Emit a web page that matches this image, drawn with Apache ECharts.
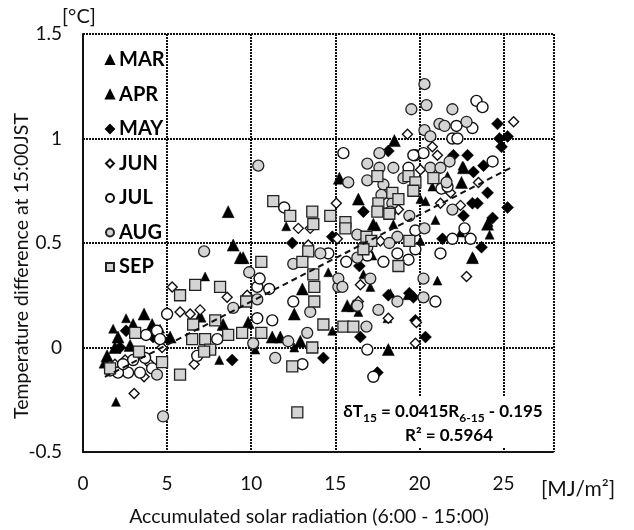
<!DOCTYPE html>
<html><head><meta charset="utf-8">
<script src="https://cdn.jsdelivr.net/npm/echarts@6/dist/echarts.min.js"></script>
<style>html,body{margin:0;padding:0;background:#fff}#c{width:634px;height:530px}</style>
</head><body><div id="c"></div>
<script>
const monthNames = ['MAR','APR','MAY','JUN','JUL','AUG','SEP'];
const xTicks = [0,5,10,15,20,25];
const yTicks = [-0.5,0,0.5,1,1.5];

const mar = [[2.08,0.05],[1.43,-0.04],[1.90,0.00],[1.31,-0.07],[2.98,0.11],[3.63,0.16],[2.80,0.01],[4.11,0.11],[5.18,0.05],[6.96,0.15],[8.63,0.65],[8.93,0.49],[9.35,0.43],[9.52,0.43],[8.33,0.11],[9.82,0.12],[11.25,0.05],[11.73,0.05],[12.56,0.16],[12.92,0.03],[13.04,0.28],[16.37,0.71],[15.24,0.81],[18.51,0.99],[17.26,0.59],[22.62,0.86],[22.50,0.79],[15.71,0.20],[16.07,0.20],[18.15,-0.01],[23.15,0.43],[24.05,0.59]];
const apr = [[1.96,-0.26],[7.26,0.34],[8.10,-0.06],[1.79,0.09],[4.58,0.09],[2.56,0.14],[12.08,0.58],[10.24,-0.01],[12.56,0.00],[14.58,0.36],[17.20,0.44],[16.67,0.35],[17.08,0.29],[18.27,0.26],[14.82,0.08],[16.37,0.17],[18.10,0.14],[19.29,0.25],[17.44,0.58],[18.45,0.59],[20.06,0.71],[20.36,0.70],[24.11,0.60],[24.17,0.54],[20.95,0.61],[21.67,0.82],[20.77,0.77],[22.44,0.55],[21.07,0.32],[23.21,0.43],[22.56,0.87],[20.06,0.51]];
const may = [[2.56,0.08],[4.17,0.05],[2.20,0.00],[8.87,-0.06],[12.44,0.50],[24.64,1.07],[24.76,1.00],[25.24,1.01],[24.88,0.96],[22.02,0.92],[22.86,0.92],[23.81,0.87],[23.21,0.84],[24.05,0.74],[25.24,0.67],[22.62,0.63],[23.15,0.69],[23.45,0.69],[18.15,0.94],[16.67,0.65],[14.82,0.53],[23.69,0.48],[24.35,0.62],[21.37,0.52],[16.49,0.05],[14.29,-0.05],[19.76,0.13],[18.15,0.25],[20.36,0.05],[17.50,-0.12],[19.40,0.26],[19.64,0.24],[16.43,0.39]];
const jun = [[5.30,0.29],[3.04,-0.22],[6.61,-0.08],[3.63,-0.14],[5.77,0.17],[6.37,0.16],[6.96,0.18],[4.70,0.00],[8.57,0.24],[9.76,0.25],[10.48,0.33],[2.50,-0.06],[3.99,-0.08],[1.90,-0.08],[12.80,0.57],[13.39,0.49],[15.06,0.69],[13.51,0.57],[15.12,0.52],[17.68,0.51],[16.49,0.30],[16.37,0.22],[18.15,0.14],[19.76,0.02],[19.82,0.12],[22.80,0.34],[19.29,1.02],[20.77,0.96],[21.07,0.92],[25.60,1.08],[23.51,0.79],[21.85,0.74],[20.06,0.85],[21.25,0.69],[22.44,0.68],[18.75,0.66]];
const jul = [[5.00,0.16],[4.40,0.08],[3.75,0.06],[3.39,-0.12],[2.68,-0.12],[2.08,-0.12],[1.61,-0.11],[2.98,-0.06],[3.69,-0.05],[4.11,-0.10],[4.58,0.04],[2.38,-0.08],[6.79,-0.04],[7.98,0.04],[10.36,0.14],[11.25,0.13],[11.07,0.28],[10.36,0.29],[10.50,0.33],[12.50,0.22],[13.04,-0.08],[11.96,0.67],[14.58,0.45],[15.65,0.41],[16.90,0.44],[17.86,0.41],[18.69,0.45],[16.90,-0.01],[17.26,-0.14],[20.95,0.22],[15.48,0.93],[19.76,0.92],[20.24,0.93],[24.35,0.89],[21.31,0.76],[22.68,0.57],[23.04,0.52],[21.96,0.52],[21.25,0.45],[19.76,0.56],[19.35,0.86],[19.35,0.42],[19.76,0.47],[23.39,1.18],[23.75,1.15],[22.20,1.06],[23.15,1.05],[21.96,1.00],[22.26,1.00],[19.64,0.92],[21.67,0.77]];
const aug = [[4.76,-0.33],[4.40,-0.13],[9.88,0.36],[10.12,0.02],[11.43,-0.05],[12.20,0.03],[13.33,0.07],[13.51,0.17],[8.93,0.19],[7.20,0.46],[10.42,0.87],[12.50,0.40],[10.36,0.23],[15.77,0.79],[16.90,0.88],[17.62,0.93],[17.62,0.86],[18.45,0.86],[16.90,0.80],[19.05,0.81],[20.65,0.86],[21.25,0.86],[21.79,0.89],[21.61,0.79],[21.96,0.66],[17.86,0.78],[17.74,0.73],[18.39,0.69],[18.27,0.65],[19.40,0.63],[20.30,0.57],[16.31,0.54],[18.69,0.53],[18.21,0.50],[16.90,0.48],[14.11,0.45],[16.31,0.43],[20.30,1.26],[19.52,1.14],[20.42,1.16],[21.96,1.14],[20.30,1.04],[20.65,1.01],[21.19,1.07],[21.49,1.06],[22.80,1.08],[15.18,0.29],[16.31,0.20],[16.85,0.10],[17.56,0.18],[18.69,0.22],[20.24,0.24],[17.08,0.33],[15.18,0.33],[15.42,0.29],[20.24,0.33]];
const sep = [[5.77,0.25],[6.67,0.30],[8.15,0.29],[3.10,0.07],[3.33,-0.02],[1.61,-0.10],[4.70,-0.07],[5.77,-0.13],[6.55,0.11],[7.86,0.13],[8.63,0.06],[9.46,0.07],[6.49,0.04],[7.26,0.04],[7.56,-0.01],[7.20,-0.02],[9.70,0.22],[10.60,0.07],[12.44,-0.09],[12.74,-0.31],[13.63,0.00],[13.69,0.35],[11.31,0.70],[12.32,0.63],[13.63,0.65],[13.69,0.59],[13.39,0.46],[10.60,0.41],[13.04,0.41],[17.50,0.82],[19.35,0.82],[20.83,0.81],[19.76,0.79],[19.64,0.75],[18.39,0.74],[18.75,0.71],[17.56,0.69],[17.50,0.65],[18.21,0.64],[14.70,0.63],[15.60,0.60],[15.60,0.57],[16.85,0.53],[17.14,0.51],[16.67,0.47],[19.40,0.51],[18.75,0.39],[13.75,0.29],[13.75,0.22],[14.29,0.11],[15.48,0.10],[16.07,0.10]];
const trend = [[1.3,-0.141],[25.5,0.863]];

const FONT = 'Lato, "Open Sans", sans-serif';
const GRID = {color:'#111', width:2, type:[2,1]};

function sc(name, data, symbol, size, fill, border, bw){
  return {name, type:'scatter', data, symbol, symbolSize:size,
    itemStyle:{color:fill, borderColor:border, borderWidth:bw, opacity:1}, emphasis:{disabled:true}, z:3};
}

const chart = echarts.init(document.getElementById('c'), null, {renderer:'canvas'});
chart.setOption({
  animation:false,
  backgroundColor:'#fff',
  grid:{left:83, right:80, top:34, bottom:78, containLabel:false},
  xAxis:{type:'value', min:0, max:28, interval:5,
    axisLine:{show:true, onZero:false, lineStyle:GRID}, axisTick:{show:false},
    splitLine:{show:true, lineStyle:GRID},
    axisLabel:{margin:22, fontSize:19, color:'#111', fontFamily:FONT,
      formatter:v=> xTicks.indexOf(v)>=0 ? String(v) : ''}},
  yAxis:{type:'value', min:-0.5, max:1.5, interval:0.5,
    axisLine:{show:true, onZero:false, lineStyle:GRID}, axisTick:{show:false},
    splitLine:{show:true, lineStyle:GRID},
    axisLabel:{margin:21, fontSize:19, color:'#111', fontFamily:FONT,
      formatter:v=> yTicks.indexOf(v)>=0 ? String(v) : ''}},
  legend:{orient:'vertical', left:100, top:45, itemWidth:8, itemHeight:8, itemGap:14.5,
    data:monthNames, textStyle:{fontSize:20, fontWeight:'bold', color:'#000', fontFamily:FONT, lineHeight:20},
    selectedMode:false},
  series:[
    sc('MAR', mar, 'triangle', 12, '#000', '#000', 0.5),
    sc('APR', apr, 'triangle', 9, '#000', '#000', 0.5),
    sc('MAY', may, 'diamond', 12, '#000', '#000', 0.5),
    sc('JUN', jun, 'diamond', 10, '#fff', '#111', 1.4),
    sc('JUL', jul, 'circle', 11, '#fff', '#111', 1.4),
    sc('AUG', aug, 'circle', 11, '#d4d4d4', '#222', 1.3),
    sc('SEP', sep, 'rect', 11, '#d4d4d4', '#222', 1.3),
    {name:'trend', type:'line', data:trend, symbol:'none', silent:true, z:4,
     lineStyle:{color:'#111', width:2, type:[6,4]}}
  ],
  graphic:[
    {type:'text', left:62, top:7, style:{text:'[°C]', font:'20px '+FONT, fill:'#111'}},
    {type:'text', x:578, y:489, style:{text:'[MJ/m²]', font:'21px '+FONT, fill:'#111', align:'center', verticalAlign:'middle'}},
    {type:'text', x:309, y:517, style:{text:'Accumulated solar radiation (6:00 - 15:00)', font:'19.5px '+FONT, fill:'#111', align:'center', verticalAlign:'middle'}},
    {type:'text', x:22, y:266, rotation:Math.PI/2, style:{text:'Temperature difference at 15:00JST', font:'19.5px '+FONT, fill:'#111', align:'center', verticalAlign:'middle'}},
    {type:'rect', shape:{x:338, y:397, width:212, height:51}, style:{fill:'#fff'}, z:10},
    {type:'text', x:443, y:412, z:11, style:{text:'{m|δT}{s|15}{m| = 0.0415R}{s|6-15}{m| - 0.195}', align:'center', verticalAlign:'middle',
      rich:{m:{fontSize:17, fontWeight:'bold', fontFamily:FONT, color:'#000', lineHeight:24, verticalAlign:'middle'},
            s:{fontSize:12, fontWeight:'bold', fontFamily:FONT, color:'#000', lineHeight:14, verticalAlign:'bottom'}}}},
    {type:'text', x:449, y:436, z:11, style:{text:'R² = 0.5964', font:'bold 17px '+FONT, fill:'#000', align:'center', verticalAlign:'middle'}}
  ]
});
</script></body></html>
